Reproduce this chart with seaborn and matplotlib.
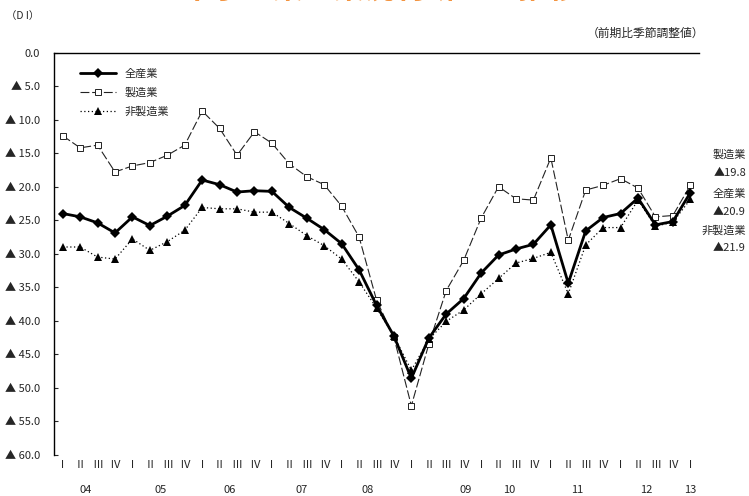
import numpy as np
import pandas as pd
import matplotlib
matplotlib.use("Agg")
import matplotlib.pyplot as plt
import seaborn as sns
from matplotlib.transforms import blended_transform_factory

# Quarterly DI, 2004 Q1 .. 2013 Q1 (values are negative, shown as ▲)
quarter_labels = ["Ⅰ", "Ⅱ", "Ⅲ", "Ⅳ"] * 9 + ["Ⅰ"]
year_labels = ["04", "05", "06", "07", "08", "09", "10", "11", "12", "13"]
year_label_pos = [1.3, 5.6, 9.6, 13.7, 17.5, 23.1, 25.6, 29.5, 33.5, 36.0]

all_industries = [24.0, 24.5, 25.4, 26.9, 24.5, 25.8, 24.4, 22.8,
                  19.0, 19.7, 20.8, 20.6, 20.7, 23.1, 24.7, 26.4,
                  28.5, 32.4, 37.7, 42.3, 48.6, 42.6, 39.0, 36.7,
                  32.9, 30.2, 29.3, 28.6, 25.7, 34.4, 26.6, 24.6,
                  24.0, 21.7, 25.7, 25.2, 20.9]
manufacturing = [12.4, 14.2, 13.8, 17.8, 16.9, 16.4, 15.3, 13.8,
                 8.7, 11.3, 15.3, 11.8, 13.5, 16.6, 18.5, 19.7,
                 22.9, 27.5, 36.9, 42.5, 52.7, 43.5, 35.5, 31.0,
                 24.7, 20.0, 21.8, 22.0, 15.7, 28.0, 20.5, 19.8,
                 18.8, 20.2, 24.5, 24.3, 19.8]
non_manufacturing = [29.0, 29.0, 30.5, 30.8, 27.8, 29.5, 28.2, 26.5,
                     23.1, 23.3, 23.3, 23.8, 23.8, 25.5, 27.3, 28.8,
                     30.8, 34.2, 38.1, 42.3, 47.4, 42.8, 40.1, 38.4,
                     36.0, 33.7, 31.4, 30.7, 29.8, 36.0, 28.7, 26.1,
                     26.1, 22.0, 25.9, 25.3, 21.9]

series_names = ["全産業", "製造業", "非製造業"]
y_ticks = np.arange(0, 61, 5)

sns.set_style("white")
plt.rcParams["font.family"] = ["Noto Sans CJK JP", "DejaVu Sans"]

idx = np.arange(len(quarter_labels))
df = pd.DataFrame({"q": idx, "全産業": all_industries,
                   "製造業": manufacturing, "非製造業": non_manufacturing})

fig = plt.figure(figsize=(7.49, 4.96), dpi=100)
ax = fig.add_axes([54 / 749, 1 - 454.7 / 496, 645 / 749, 402 / 496])

sns.lineplot(data=df, x="q", y="製造業", ax=ax, color="#222222",
             linewidth=0.8, linestyle=(0, (8, 2.5)), marker="s",
             markersize=4.5, markerfacecolor="white", markeredgecolor="#222222",
             markeredgewidth=0.7, label="製造業", zorder=2)
sns.lineplot(data=df, x="q", y="非製造業", ax=ax, color="black",
             linewidth=0.9, linestyle=(0, (1, 2)), marker="^",
             markersize=6, markeredgewidth=0, label="非製造業", zorder=3)
sns.lineplot(data=df, x="q", y="全産業", ax=ax, color="black",
             linewidth=2.0, marker="D", markersize=5.5, markeredgewidth=0,
             label="全産業", zorder=4)

ax.set_xlim(-0.5, len(idx) - 0.5)
ax.set_ylim(60, 0)
ax.set_xlabel("")
ax.set_ylabel("")

ax.set_yticks(y_ticks)
ax.set_yticklabels(["0.0"] + [f"▲ {v:.1f}" for v in y_ticks[1:]], fontsize=8)
ax.set_xticks(idx)
ax.set_xticklabels(quarter_labels, fontsize=8)
ax.tick_params(axis="y", direction="in", length=3, width=0.8, pad=10, left=True)
ax.tick_params(axis="x", length=0, pad=4)

for side in ["bottom", "right"]:
    ax.spines[side].set_visible(False)
for side in ["top", "left"]:
    ax.spines[side].set_visible(True)
    ax.spines[side].set_color("black")
    ax.spines[side].set_linewidth(1.0)

# year labels under the quarter labels
trans = blended_transform_factory(ax.transData, fig.transFigure)
for lab, pos in zip(year_labels, year_label_pos):
    ax.text(pos, 1 - 490 / 496, lab, transform=trans, ha="center",
            va="center", fontsize=8)

# legend
handles, labels = ax.get_legend_handles_labels()
order = [labels.index(n) for n in series_names]
ax.legend([handles[i] for i in order], [labels[i] for i in order],
          loc="upper left", bbox_to_anchor=(0.025, 0.985), frameon=False,
          fontsize=8, handlelength=3.2, labelspacing=0.75, handletextpad=0.8)

# latest values at the right edge
right_notes = [("製造業", 155), ("▲19.8", 172.7), ("全産業", 193.3),
               ("▲20.9", 211.7), ("非製造業", 230.7), ("▲21.9", 248.3)]
for txt, ypx in right_notes:
    fig.text(746 / 749, 1 - ypx / 496, txt, ha="right", va="center", fontsize=8)

fig.text(6 / 749, 1 - 16 / 496, "（D I）", ha="left", va="center", fontsize=7.5)
fig.text(704 / 749, 1 - 33 / 496, "（前期比季節調整値）", ha="right",
         va="center", fontsize=8.5)

# chart title sits at the top edge of the canvas
fig.text((193 + 568) / 2 / 749, 1 + 2.5 / 496, "中小企業の業況判断DIの推移",
         ha="center", va="baseline", fontsize=22, color="#F39440",
         fontweight="bold")

fig.savefig("out.png", dpi=100)
